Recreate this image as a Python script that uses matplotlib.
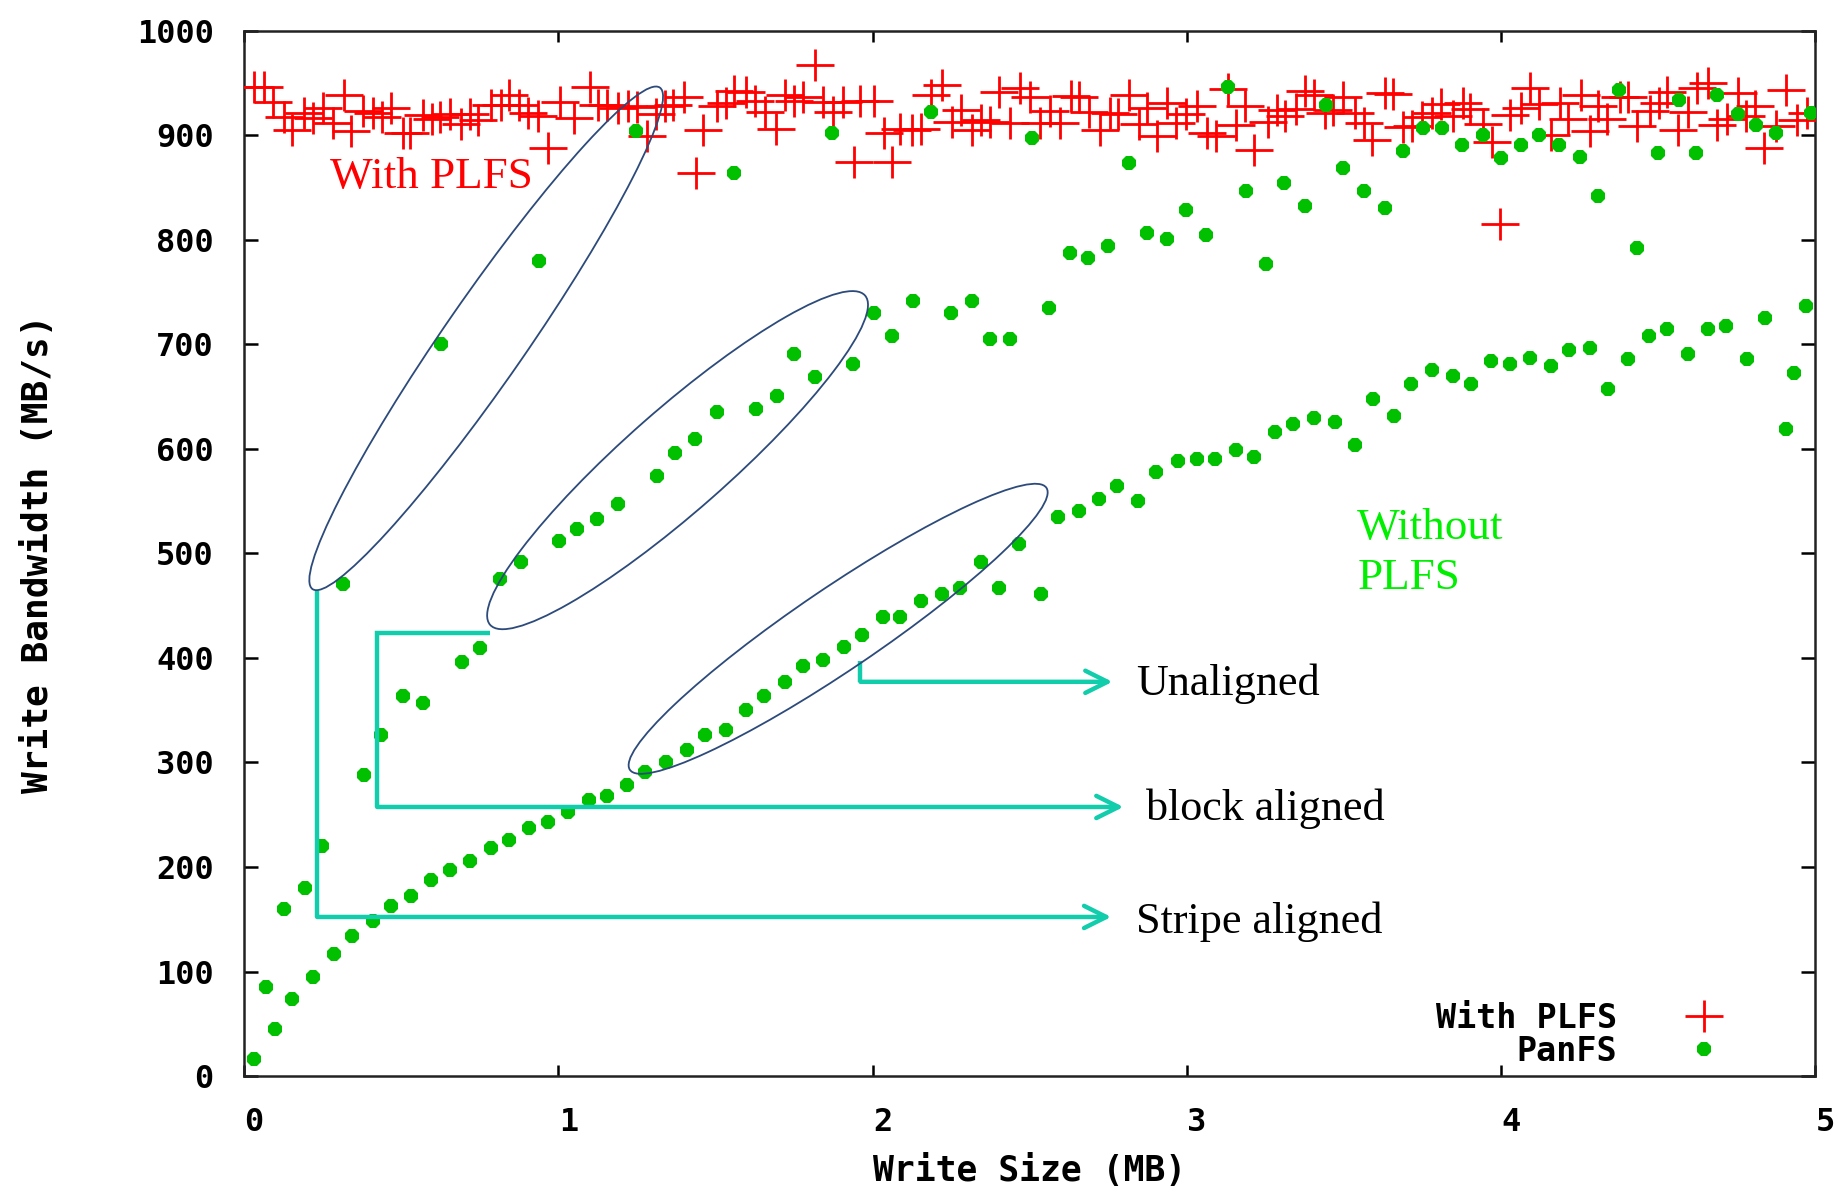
import matplotlib
matplotlib.use("Agg")
import matplotlib.pyplot as plt
from matplotlib.path import Path
from matplotlib.patches import Ellipse
from matplotlib.transforms import ScaledTranslation

plt.rcParams["font.family"] = ["DejaVu Sans Mono"]
plt.rcParams["font.weight"] = "bold"

# --- data -----------------------------------------------------------------
plfs_x = [0.031, 0.064, 0.093, 0.125, 0.151, 0.190, 0.218, 0.250, 0.284, 0.316,
          0.339, 0.379, 0.409, 0.438, 0.467, 0.504, 0.528, 0.568, 0.597, 0.623,
          0.655, 0.689, 0.717, 0.745, 0.786, 0.816, 0.844, 0.873, 0.904, 0.936,
          0.968, 1.005, 1.048, 1.099, 1.127, 1.156, 1.191, 1.221, 1.249, 1.281,
          1.311, 1.339, 1.366, 1.398, 1.438, 1.461, 1.504, 1.533, 1.560, 1.597,
          1.626, 1.658, 1.692, 1.721, 1.750, 1.777, 1.817, 1.843, 1.873, 1.907,
          1.939, 1.960, 2.003, 2.035, 2.061, 2.088, 2.125, 2.154, 2.186, 2.222,
          2.252, 2.282, 2.316, 2.344, 2.374, 2.403, 2.438, 2.470, 2.501, 2.533,
          2.565, 2.597, 2.630, 2.658, 2.687, 2.724, 2.754, 2.782, 2.817, 2.846,
          2.872, 2.904, 2.938, 2.966, 2.997, 3.031, 3.063, 3.092, 3.129, 3.157,
          3.185, 3.214, 3.259, 3.286, 3.312, 3.346, 3.376, 3.403, 3.440, 3.466,
          3.498, 3.535, 3.562, 3.590, 3.631, 3.657, 3.689, 3.716, 3.747, 3.779,
          3.808, 3.848, 3.878, 3.901, 3.942, 3.970, 3.997, 4.027, 4.063, 4.092,
          4.121, 4.159, 4.188, 4.211, 4.254, 4.281, 4.308, 4.336, 4.377, 4.403,
          4.432, 4.472, 4.501, 4.527, 4.564, 4.594, 4.623, 4.658, 4.686, 4.718,
          4.753, 4.780, 4.808, 4.837, 4.875, 4.906, 4.941, 4.973]
plfs_y = [946, 946, 932, 917, 905, 921, 916, 926, 912, 938,
          904, 923, 921, 917, 926, 902, 902, 919, 915, 917,
          920, 911, 920, 914, 929, 929, 938, 929, 921, 918,
          888, 932, 916, 946, 929, 929, 926, 928, 927, 899,
          920, 928, 929, 936, 864, 905, 928, 931, 942, 941,
          933, 922, 906, 938, 933, 936, 967, 932, 922, 932,
          874, 933, 933, 902, 874, 906, 905, 906, 938, 948,
          913, 924, 905, 914, 913, 941, 912, 945, 936, 912,
          923, 912, 937, 936, 922, 905, 921, 920, 938, 911,
          926, 899, 931, 912, 920, 928, 902, 899, 944, 910,
          928, 886, 913, 924, 918, 925, 942, 938, 921, 924,
          936, 921, 912, 895, 940, 939, 908, 909, 917, 921,
          930, 918, 931, 925, 911, 893, 815, 919, 926, 945,
          930, 900, 931, 915, 938, 904, 928, 915, 936, 936,
          909, 923, 931, 941, 905, 922, 945, 950, 910, 915,
          940, 918, 928, 888, 909, 943, 914, 921]

panfs_x = [0.030, 0.068, 0.097, 0.125, 0.153, 0.192, 0.220, 0.249, 0.286, 0.313,
           0.342, 0.381, 0.409, 0.435, 0.466, 0.504, 0.530, 0.570, 0.594, 0.625,
           0.655, 0.694, 0.719, 0.750, 0.786, 0.814, 0.843, 0.881, 0.907, 0.938,
           0.966, 1.002, 1.030, 1.060, 1.098, 1.124, 1.153, 1.190, 1.219, 1.248,
           1.276, 1.312, 1.343, 1.371, 1.410, 1.434, 1.466, 1.503, 1.532, 1.559,
           1.598, 1.627, 1.655, 1.694, 1.721, 1.750, 1.779, 1.816, 1.843, 1.870,
           1.910, 1.938, 1.967, 2.005, 2.032, 2.062, 2.088, 2.127, 2.155, 2.184,
           2.221, 2.250, 2.277, 2.316, 2.343, 2.373, 2.401, 2.438, 2.464, 2.506,
           2.534, 2.562, 2.589, 2.627, 2.656, 2.684, 2.721, 2.749, 2.778, 2.816,
           2.845, 2.873, 2.901, 2.938, 2.970, 2.997, 3.033, 3.062, 3.090, 3.129,
           3.155, 3.187, 3.214, 3.253, 3.281, 3.308, 3.339, 3.375, 3.403, 3.441,
           3.470, 3.496, 3.535, 3.563, 3.593, 3.629, 3.658, 3.686, 3.714, 3.751,
           3.781, 3.810, 3.846, 3.876, 3.904, 3.941, 3.969, 3.998, 4.028, 4.064,
           4.093, 4.121, 4.158, 4.183, 4.216, 4.252, 4.281, 4.309, 4.339, 4.375,
           4.404, 4.432, 4.471, 4.499, 4.527, 4.566, 4.595, 4.621, 4.659, 4.687,
           4.715, 4.754, 4.783, 4.810, 4.839, 4.875, 4.906, 4.933, 4.970, 4.985]
panfs_y = [16, 85, 45, 160, 74, 180, 95, 220, 117, 471,
           134, 288, 148, 326, 163, 364, 172, 357, 188, 700,
           197, 396, 206, 409, 218, 475, 226, 492, 237, 780,
           243, 512, 253, 523, 264, 533, 268, 547, 278, 904,
           291, 574, 300, 596, 312, 609, 326, 635, 331, 864,
           350, 638, 364, 650, 377, 691, 392, 669, 398, 902,
           410, 681, 422, 730, 439, 708, 439, 741, 454, 922,
           461, 730, 467, 741, 492, 705, 467, 705, 509, 897,
           461, 735, 535, 787, 540, 782, 552, 794, 564, 873,
           550, 806, 578, 801, 588, 828, 590, 804, 590, 946,
           599, 847, 592, 777, 616, 854, 624, 832, 629, 929,
           626, 869, 604, 847, 648, 830, 631, 885, 662, 907,
           675, 907, 670, 891, 662, 900, 684, 878, 681, 891,
           687, 900, 679, 891, 694, 879, 696, 842, 657, 943,
           686, 792, 708, 883, 715, 934, 691, 883, 715, 938,
           717, 920, 686, 910, 725, 902, 619, 672, 737, 921]

x_ticks = [0, 1, 2, 3, 4, 5]
y_ticks = list(range(0, 1001, 100))

# annotation geometry (data units); ellipse sizes in inches
ellipses = [  # centre x, centre y, width, height, angle
    (0.770, 705.6, 6.10, 0.82, 55.3),
    (1.379, 589.1, 4.99, 1.02, 41.3),
    (1.890, 427.8, 5.03, 0.82, 34.1),
]
brackets = [  # polyline xs, polyline ys, arrow tip x
    ([1.961, 1.961], [396.7, 377.1], 2.763),
    ([0.783, 0.423, 0.423], [424.0, 424.0, 257.4], 2.798),
    ([0.232, 0.232], [464.0, 152.2], 2.759),
]
notes = [  # x, baseline y (last line), text, colour, size
    (0.273, 849.5, "With PLFS", "#ff0000", 32.5),
    (3.542, 465.7, "Without\nPLFS", "#00ee00", 32.5),
    (2.837, 364.1, "Unaligned", "black", 31.8),
    (2.869, 244.5, "block aligned", "black", 31.8),
    (2.837, 136.6, "Stripe aligned", "black", 31.8),
]

RED = "#ff0000"
GREEN = "#00c000"
TEAL = "#12cdac"
NAVY = "#2c4a7a"

# gnuplot "+" stretched sideways like the source image
CROSS = Path([(-1.19, 0), (1.19, 0), (0, -1), (0, 1)],
             [Path.MOVETO, Path.LINETO, Path.MOVETO, Path.LINETO])

fig = plt.figure(figsize=(18.39, 11.93), dpi=100)
ax = fig.add_axes([0.1328, 0.098, 0.8544, 0.8764])

ax.plot(plfs_x, plfs_y, ls="none", marker=CROSS, ms=27.5, mew=2.0,
        mec=RED, mfc="none", label="With PLFS", zorder=3)
ax.plot(panfs_x, panfs_y, ls="none", marker="8", ms=11, mew=0,
        color=GREEN, label="PanFS", zorder=4)

for cx, cy, w, h, ang in ellipses:
    tr = fig.dpi_scale_trans + ScaledTranslation(cx, cy, ax.transData)
    ax.add_patch(Ellipse((0, 0), w, h, angle=ang, transform=tr, fill=False,
                         ec=NAVY, lw=1.3, zorder=6, clip_on=False))

for xs, ys, tip in brackets:
    ax.plot(xs, ys, color=TEAL, lw=3.2, solid_joinstyle="miter",
            solid_capstyle="butt", zorder=5)
    ax.annotate("", xy=(tip, ys[-1]), xytext=(xs[-1], ys[-1]),
                arrowprops=dict(arrowstyle="->,head_length=0.4,head_width=0.2",
                                color=TEAL, lw=3.2, shrinkA=0, shrinkB=0,
                                mutation_scale=40), zorder=5)

for x, y, s, c, fs in notes:
    ax.text(x, y, s, color=c, fontsize=fs, family="Liberation Serif",
            weight="normal", va="baseline", ha="left", linespacing=1.34, zorder=7)

ax.set_xlim(0, 5)
ax.set_ylim(0, 1000)
ax.set_xticks(x_ticks)
ax.set_yticks(y_ticks)
ax.tick_params(axis="x", direction="in", length=7.7, width=1.8, pad=22,
               labelsize=23, top=True)
ax.tick_params(axis="y", direction="in", length=10, width=1.8, pad=22,
               labelsize=23, right=True)
off = ScaledTranslation(0.10, 0, fig.dpi_scale_trans)
for lbl in ax.get_xticklabels():
    lbl.set_transform(lbl.get_transform() + off)
for sp in ax.spines.values():
    sp.set_linewidth(1.8)
    sp.set_color("#222222")

ax.set_xlabel("Write Size (MB)", fontsize=25, fontweight="bold")
ax.xaxis.set_label_coords(0.5, -0.0908)
ax.xaxis.label.set_va("center")
ax.set_ylabel("Write Bandwidth (MB/s)", fontsize=26, fontweight="bold")
ax.yaxis.set_label_coords(-0.1312, 0.5)
ax.yaxis.label.set_va("center")

ax.legend(loc="lower right", bbox_to_anchor=(0.950, 0.008), frameon=False,
          markerfirst=False, handlelength=2, handletextpad=1.6, borderpad=0,
          borderaxespad=0, labelspacing=0.0,
          prop=dict(family="DejaVu Sans Mono", weight="bold", size=24))

fig.savefig("out.png", dpi=100)
